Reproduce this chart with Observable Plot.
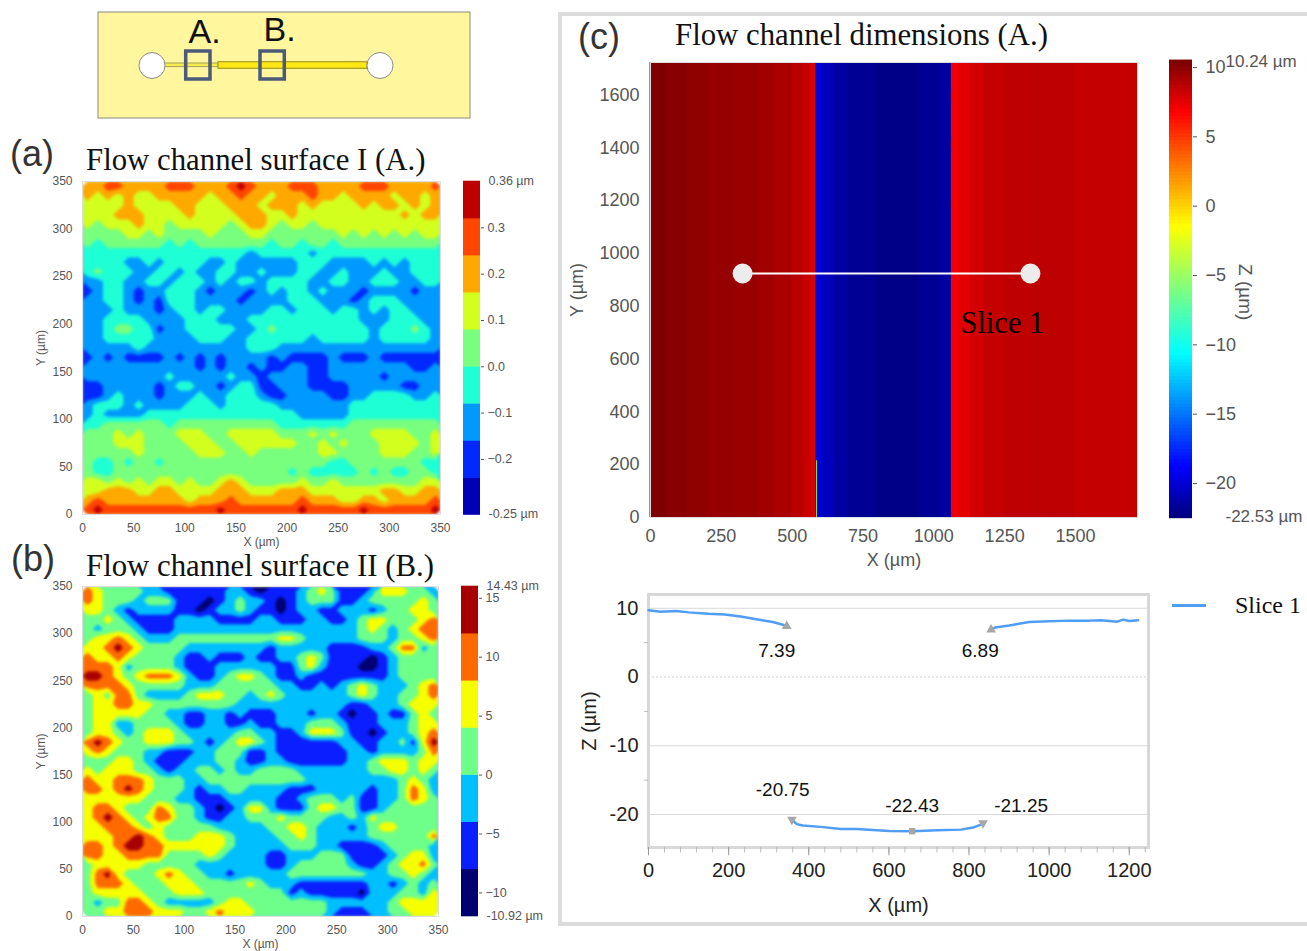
<!DOCTYPE html>
<html>
<head>
<meta charset="utf-8">
<script src="https://cdn.jsdelivr.net/npm/d3@7"></script>
<script src="https://cdn.jsdelivr.net/npm/@observablehq/plot@0.6"></script>
<style>
html,body{margin:0;padding:0;background:#fff;overflow:hidden}
#page{position:relative;width:1307px;height:951px;overflow:hidden;font-family:"Liberation Sans",Arial,sans-serif}
#page svg{position:absolute;overflow:visible;background:transparent}
.t{position:absolute;white-space:nowrap;line-height:1}
.serif{font-family:"Liberation Serif",serif;color:#111}
.tag{color:#333;font-size:36px}
</style>
</head>
<body>
<div id="page"></div>
<script>
// ---------- Panel (a): band index per 10 µm cell, rows from y=345 down to y=5 ----------
const surfaceIBounds = [-0.32,-0.24,-0.16,-0.08,0,0.08,0.16,0.24,0.32,0.40];
const surfaceIColors = ["#0000b4","#0028ff","#0099ff","#1effd6","#78ff7d","#d2ff1e","#ffa800","#ff4500","#c00000"];
const surfaceITicks = [0.3,0.2,0.1,0,-0.1,-0.2];
const surfaceIRows = [
"66776 66677 76667 87666 77766 66777 66667",
"65656 55666 66566 76656 66766 56666 56656",
"55556 55556 65556 66566 65655 55656 65656",
"55566 65555 65555 66655 65555 55555 56566",
"54555 65545 55554 56654 55455 55555 55555",
"44445 54544 44544 45544 44444 54545 45455",
"43444 44434 34444 44434 43443 44444 44444",
"33333 33333 33333 32333 33233 33333 33333",
"33332 23233 33223 22222 23332 22232 32333",
"34333 22332 32233 22322 23322 32223 22333",
"22332 23323 33232 33233 33223 32233 32233",
"12332 12233 32122 21232 33232 22122 22122",
"22332 12133 32222 12222 33322 21233 32222",
"22232 22123 32332 22233 23332 33232 33222",
"22333 32222 33322 23333 33333 33222 33322",
"22344 33122 33333 22343 33333 33323 33432",
"22333 33222 23332 23333 33233 33323 33332",
"22222 32222 22222 23332 22222 22222 22222",
"12121 11121 21212 22212 11112 11121 11111",
"22222 22222 21212 21211 22112 22222 22112",
"22222 22232 22223 22122 22112 22221 22222",
"11222 22123 32212 33112 22111 12222 21122",
"11232 22122 23223 33211 22221 12233 33223",
"23332 32222 33323 33332 22222 23333 33333",
"23222 23333 33333 33333 32222 23333 33333",
"33444 44434 44444 44443 33333 34444 44444",
"44454 54445 55445 55554 44545 44455 55445",
"44455 54444 55544 55555 54454 54445 55545",
"44444 54444 45554 45444 44455 44445 55445",
"43343 44344 44444 44444 44443 34444 44433",
"43344 44444 44444 44444 34333 33434 33443",
"55454 54554 54456 54444 45445 44444 44455",
"55666 55665 55566 65556 66555 55556 65566",
"67666 66666 56667 66666 67666 55665 66667",
"78777 77777 77787 77777 78777 77877 77778"
];
// ---------- Panel (b) ----------
const surfaceIIBounds = [-12,-8,-4,0,4,8,12,16];
const surfaceIIColors = ["#000070","#0a1eff","#00bfff","#6dff8a","#f5ff00","#ff6a00","#a80000"];
const surfaceIITicks = [15,10,5,0,-5,-10];
const surfaceIIRows = [
"54333 32211 11112 21011 12343 11124 44332",
"54333 23331 11012 32210 12333 11233 33343",
"44321 22221 10122 32110 12211 22212 33443",
"33432 11112 22211 11221 11221 12344 33345",
"32333 21112 22222 22222 22222 22343 23455",
"34454 32223 33333 33334 43222 22333 23345",
"44565 43333 22222 22212 22221 11122 35523",
"54454 33332 11211 12112 23431 11101 23333",
"55542 33332 11122 22221 13421 11001 23333",
"66543 45554 21123 44321 12111 11111 23333",
"55554 33333 22233 33332 21121 23432 22345",
"34355 32222 34443 32343 22222 23432 23345",
"34455 44333 33333 22222 22222 21122 23444",
"34444 43322 11221 21112 22122 10112 11343",
"34422 33332 11221 12112 22333 21112 22344",
"34432 34443 22222 33221 12444 31101 22345",
"56543 34443 32123 44321 11111 22112 23146",
"45433 32211 12233 31121 11111 12212 22235",
"33344 32111 22233 21122 11111 12234 44344",
"43444 33212 23323 22333 32222 22233 44343",
"54455 54333 22333 33333 33222 22222 23432",
"55456 54333 21223 32222 11122 22212 23542",
"44444 43332 21112 22221 12333 23112 23543",
"45543 33543 32101 24421 11344 33112 33333",
"45654 34553 32112 23334 33332 23243 33333",
"44555 43433 33322 22233 44322 21234 43333",
"44455 65433 34443 22223 34322 22233 33335",
"55456 65544 44443 22222 33322 11112 33332",
"55445 55533 33432 22211 22233 31111 23442",
"34444 43333 32222 22211 23333 32112 34453",
"35643 33454 33221 22222 33333 33322 33432",
"35554 33344 43333 34322 21111 11122 12323",
"34444 43334 44333 33333 12111 11022 23324",
"32335 54322 22234 43333 33332 22222 34444",
"33445 55444 33454 44333 33332 11122 33444"
];
// ---------- Panel (c): heat map columns (µm edges, Z value) ----------
const heatEdges  = [0,60,130,200,290,380,440,500,540,570,585,610,650,700,800,950,1020,1064,1090,1130,1180,1250,1350,1500,1720];
const heatValues = [10.2,10.0,9.8,9.6,9.5,9.3,9.0,8.6,8.2,7.6,-20,-20.8,-21.5,-22,-22.3,-22,-21.6,7.0,7.4,7.9,8.3,8.45,8.5,8.3];
const jetStops  = [-22.53,-18.9,-10.7,-6.1,-1.56,6.64,10.24];
const jetColors = ["#00007f","#0000ff","#00ffff","#7fff7f","#ffff00","#ff0000","#7f0000"];
const heatXTicks = [0,250,500,750,1000,1250,1500];
const heatYTicks = [0,200,400,600,800,1000,1200,1400,1600];
const heatBarTicks = [10,5,0,-5,-10,-15,-20];
const sliceLineX = [325,1341];
const sliceLineY = 924;
const edgeSliverX = 586, edgeSliverY = [0,215];
const edgeBlipsY = [[1580,1610],[1395,1425],[1175,1205]], edgeBlipX = 1063;
// ---------- Slice 1 profile ----------
const profileLeftX   = [0,30,70,100,150,190,230,280,310,335,345];
const profileLeftZ   = [9.7,9.5,9.6,9.4,9.2,9.1,8.8,8.3,8.0,7.6,7.39];
const profileRightX  = [855,865,900,950,1000,1050,1100,1130,1170,1185,1200,1222];
const profileRightZ  = [6.89,7.2,7.5,8.0,8.1,8.2,8.2,8.25,8.05,8.35,8.15,8.25];
const profileFloorX  = [358,370,385,430,480,520,600,658,720,780,810,828,835];
const profileFloorZ  = [-20.75,-21.4,-21.6,-21.8,-22.1,-22.1,-22.4,-22.43,-22.3,-22.2,-21.9,-21.5,-21.25];
const profileMarkers = [
  {x:345,z:7.39,lx:320,lz:3.8,sym:"triangle",rot:0,label:"7.39"},
  {x:855,z:6.89,lx:828,lz:3.8,sym:"triangle",rot:0,label:"6.89"},
  {x:358,z:-20.75,lx:335,lz:-16.4,sym:"triangle",rot:180,label:"-20.75"},
  {x:658,z:-22.43,lx:658,lz:-18.7,sym:"square",rot:0,label:"-22.43"},
  {x:835,z:-21.25,lx:930,lz:-18.7,sym:"triangle",rot:180,label:"-21.25"}
];
const profileXTicks = [0,200,400,600,800,1000,1200];
const profileXMinor = d3.range(0,1241,40);
const profileYTicks = [10,0,-10,-20];
const profileYMinor = [5,-5,-15];
// ---------- Schematic ----------
const chipRect = {x1:2,x2:374,y1:2,y2:108};
const narrowChannel = {x1:66,x2:122,y1:53,y2:56.6};
const wideChannel = {x1:122,x2:271,y1:51.7,y2:58.3};
const wells = [{x:55.5,y:55},{x:283.5,y:55}];
const regionBoxes = [{x1:89.7,x2:114,y1:41,y2:69,label:"A.",lx:92,ly:22},{x1:164,x2:188.3,y1:41,y2:69,label:"B.",lx:167,ly:20}];

const page = document.getElementById("page");
const put = (el,left,top)=>{el.style.left=left+"px";el.style.top=top+"px";page.appendChild(el);return el;};
const txt = (s,left,top,size,cls,extra)=>{const d=document.createElement("div");d.className="t "+(cls||"");d.textContent=s;d.style.left=left+"px";d.style.top=top+"px";d.style.fontSize=size+"px";if(extra)Object.assign(d.style,extra);page.appendChild(d);return d;};
const parseRows = rows => rows.join("").replace(/\s/g,"").split("").map(Number);
const fieldValues = (rows,b)=>parseRows(rows).map(k=>(b[k]+b[k+1])/2);
const axisStyle = {background:"transparent",fontFamily:"'Liberation Sans',Arial,sans-serif",color:"#555"};
const plain = d=>String(d);

function surface(rows,bounds,colors,innerL,innerT,innerW,innerH){
  const ml=50,mt=12,mr=14,mb=40;
  const p=Plot.plot({
    width:innerW+ml+mr,height:innerH+mt+mb,marginLeft:ml,marginTop:mt,marginRight:mr,marginBottom:mb,
    style:{...axisStyle,fontSize:"12px"},
    x:{domain:[0,350]},y:{domain:[0,350]},
    color:{type:"threshold",domain:bounds.slice(1,-1),range:colors},
    marks:[
      Plot.contour(fieldValues(rows,bounds),{width:35,height:35,x1:0,x2:350,y1:350,y2:0,fill:Plot.identity,thresholds:bounds.slice(0,-1),clip:true,className:"field"}),
      Plot.frame({stroke:"#ddd",strokeWidth:1}),
      Plot.axisX({ticks:d3.range(0,351,50),tickSize:0,tickPadding:9,label:"X (µm)",labelAnchor:"center",labelArrow:"none",labelOffset:31,fill:"#555"}),
      Plot.axisY({ticks:d3.range(0,351,50),tickSize:0,tickPadding:10,label:"Y (µm)",labelAnchor:"center",labelArrow:"none",labelOffset:46,fill:"#555"})
    ]
  });
  p.querySelectorAll('[aria-label="contour"]').forEach(g=>{g.style.filter="blur(1.5px)";});
  put(p,innerL-ml,innerT-mt);
}
function stepBar(bounds,colors,ticks,fmt,yTop,yBottom,left,top,h,w,labels){
  const bands=colors.map((c,i)=>({y1:bounds[i],y2:bounds[i+1],c}));
  const p=Plot.plot({
    width:w+90,height:h+20,marginLeft:0,marginRight:90,marginTop:10,marginBottom:10,
    style:{...axisStyle,fontSize:"12.5px"},
    x:{domain:[0,1],axis:null},y:{domain:[yBottom,yTop]},
    marks:[
      Plot.rect(bands,{x1:0,x2:1,y1:"y1",y2:"y2",fill:"c",insetTop:-0.3,insetBottom:-0.3}),
      Plot.axisY({anchor:"right",ticks,tickFormat:fmt,tickSize:3,tickPadding:4,label:null,fill:"#555"}),
      Plot.text(labels,{x:1,y:"y",text:"t",dx:8,dy:-1,textAnchor:"start",fill:"#555",fontSize:12.5})
    ]
  });
  put(p,left,top-10);
}

// --- panel frames & titles
const box=document.createElement("div");
Object.assign(box.style,{position:"absolute",left:"558px",top:"12px",width:"760px",height:"906px",border:"4px solid #dcdcdc",boxSizing:"content-box"});
page.appendChild(box);

// schematic
put(Plot.plot({
  width:376,height:110,margin:0,style:{background:"transparent"},
  x:{domain:[0,376],axis:null},y:{domain:[110,0],axis:null},
  marks:[
    Plot.rect([chipRect],{x1:"x1",x2:"x2",y1:"y1",y2:"y2",fill:"#fff69e",stroke:"#8a8a80",strokeWidth:1}),
    Plot.rect([narrowChannel],{x1:"x1",x2:"x2",y1:"y1",y2:"y2",fill:"#f6ea4e",stroke:"#a8a05a",strokeWidth:1}),
    Plot.rect([wideChannel],{x1:"x1",x2:"x2",y1:"y1",y2:"y2",fill:"#ffe815",stroke:"#a89a20",strokeWidth:1.2}),
    Plot.dot(wells,{x:"x",y:"y",r:13,fill:"#fff",stroke:"#8a8a8a",strokeWidth:1}),
    Plot.rect(regionBoxes,{x1:"x1",x2:"x2",y1:"y1",y2:"y2",fill:"none",stroke:"#4a5a78",strokeWidth:3.5}),
    Plot.text(regionBoxes,{x:"lx",y:"ly",text:"label",textAnchor:"start",fontSize:34,fill:"#111",fontFamily:"'Liberation Sans',Arial,sans-serif"})
  ]
}),96,10);

txt("(a)",10,136,36,"tag");
txt("Flow channel surface I (A.)",86,145,30.8,"serif");
txt("(b)",11,541,36,"tag");
txt("Flow channel surface II (B.)",86,551,30.8,"serif");
txt("(c)",578,19,36,"tag");
txt("Flow channel dimensions (A.)",675,20,30.8,"serif");

surface(surfaceIRows,surfaceIBounds,surfaceIColors,82,181,358,333);
stepBar(surfaceIBounds,surfaceIColors,surfaceITicks,d3.format(".1f"),0.40,-0.32,463,180.5,333.5,17,
  [{y:0.40,t:"0.36 µm"},{y:-0.32,t:"-0.25 µm"}]);

surface(surfaceIIRows,surfaceIIBounds,surfaceIIColors,82,586,356,330);
stepBar(surfaceIIBounds,surfaceIIColors,surfaceIITicks,d3.format("d"),16,-12,461,586,330,17,
  [{y:16,t:"14.43 µm"},{y:-12,t:"-10.92 µm"}]);

// heat map
const heatCols = heatValues.map((v,i)=>({x1:heatEdges[i],x2:heatEdges[i+1],v}));
const jetScale = {type:"linear",domain:jetStops,range:jetColors,interpolate:"rgb",clamp:true};
put(Plot.plot({
  width:487+70+14,height:455+12+50,marginLeft:70,marginRight:14,marginTop:12,marginBottom:50,
  style:{...axisStyle,fontSize:"18px"},
  x:{domain:[0,1719]},y:{domain:[0,1723]},color:jetScale,
  marks:[
    Plot.rect(heatCols,{x1:"x1",x2:"x2",y1:0,y2:1723,fill:"v",insetLeft:-0.5,insetRight:-0.5}),
    Plot.ruleX([edgeSliverX],{y1:edgeSliverY[0],y2:edgeSliverY[1],stroke:"#8fd060",strokeWidth:1.2}),
    Plot.ruleX(edgeBlipsY,{x:edgeBlipX,y1:d=>d[0],y2:d=>d[1],stroke:"#f20000",strokeWidth:1.5}),
    Plot.frame({stroke:"#ddd",strokeWidth:1}),
    Plot.line(sliceLineX.map(x=>({x,y:sliceLineY})),{x:"x",y:"y",stroke:"#fff",strokeWidth:2}),
    Plot.dot(sliceLineX.map(x=>({x,y:sliceLineY})),{x:"x",y:"y",r:10,fill:"#ececec",stroke:"none"}),
    Plot.text([{x:1094,y:735}],{x:"x",y:"y",text:()=>"Slice 1",textAnchor:"start",fontFamily:"'Liberation Serif',serif",fontSize:30.5,fill:"#000"}),
    Plot.axisX({ticks:heatXTicks,tickFormat:plain,tickSize:0,tickPadding:12,label:"X (µm)",labelAnchor:"center",labelArrow:"none",labelOffset:48,fill:"#555"}),
    Plot.axisY({ticks:heatYTicks,tickFormat:plain,tickSize:0,tickPadding:11,label:"Y (µm)",labelAnchor:"center",labelArrow:"none",labelOffset:80,fill:"#555"})
  ]
}),580,50);

// heat colour bar
const barSteps = d3.range(-22.5,10.36,0.25).map(v=>({v}));
put(Plot.plot({
  width:150,height:475,marginLeft:0,marginRight:127,marginTop:10,marginBottom:10,
  style:{...axisStyle,fontSize:"18px"},
  x:{domain:[0,1],axis:null},y:{domain:[-22.45,10.36]},color:jetScale,
  marks:[
    Plot.rect(barSteps,{x1:0,x2:1,y1:"v",y2:d=>d.v+0.25,fill:"v",insetTop:-0.5,insetBottom:-0.5}),
    Plot.axisY({anchor:"right",ticks:heatBarTicks,tickFormat:d3.format("d"),tickSize:4,tickPadding:9,label:null,fill:"#555"}),
    Plot.text([{y:10.36,t:"10.24 µm"},{y:-22.45,t:"-22.53 µm"}],{x:1,y:"y",text:"t",dx:33,dy:-1,textAnchor:"start",fill:"#555",fontSize:17}),
    Plot.text([{y:-6.2}],{x:1,y:"y",text:()=>"Z (µm)",dx:53,rotate:90,fill:"#555",fontSize:19})
  ]
}),1169,52);

// profile
const toPts=(xs,zs)=>xs.map((x,i)=>({x,z:zs[i]}));
const blue="#4f9df5";
put(Plot.plot({
  width:500+70+10,height:253+10+70,marginLeft:70,marginRight:10,marginTop:10,marginBottom:70,
  style:{...axisStyle,fontSize:"20px",color:"#222"},
  x:{domain:[0,1248]},y:{domain:[-24.8,12]},
  marks:[
    Plot.ruleY([10,-10,-20],{stroke:"#d8d8d8",strokeWidth:1}),
    Plot.ruleY([0],{stroke:"#cfcfcf",strokeWidth:1.2,strokeDasharray:"2 2"}),
    Plot.frame({stroke:"#d8d8d8",strokeWidth:3}),
    Plot.ruleX(profileXMinor,{y1:-24.8,y2:-25.6,stroke:"#bbb",strokeWidth:1}),
    Plot.ruleX(profileXTicks,{y1:-24.8,y2:-26,stroke:"#999",strokeWidth:1}),
    Plot.ruleY(profileYMinor,{x1:-10,x2:0,stroke:"#bbb",strokeWidth:1}),
    Plot.line(toPts(profileLeftX,profileLeftZ),{x:"x",y:"z",stroke:blue,strokeWidth:2.5}),
    Plot.line(toPts(profileRightX,profileRightZ),{x:"x",y:"z",stroke:blue,strokeWidth:2.5}),
    Plot.line(toPts(profileFloorX,profileFloorZ),{x:"x",y:"z",stroke:blue,strokeWidth:2.5}),
    Plot.dot(profileMarkers,{x:"x",y:"z",symbol:"sym",rotate:"rot",r:3.6,fill:"#a6a6a6",stroke:"none"}),
    Plot.text(profileMarkers,{x:"lx",y:"lz",text:"label",fill:"#111",fontSize:19,textAnchor:"middle"}),
    Plot.axisX({ticks:profileXTicks,tickFormat:plain,tickSize:0,tickPadding:15,label:"X (µm)",labelAnchor:"center",labelArrow:"none",labelOffset:64,fontSize:20,fill:"#222"}),
    Plot.axisY({ticks:profileYTicks,tickFormat:plain,tickSize:0,tickPadding:10,label:"Z (µm)",labelAnchor:"center",labelArrow:"none",labelOffset:67,fontSize:20,fill:"#222"})
  ]
}),578,584);

// legend
const legendLine=document.createElement("div");
Object.assign(legendLine.style,{position:"absolute",left:"1172px",top:"604px",width:"34px",height:"3px",background:blue});
page.appendChild(legendLine);
txt("Slice 1",1235,593,24,"serif");
</script>
</body>
</html>
